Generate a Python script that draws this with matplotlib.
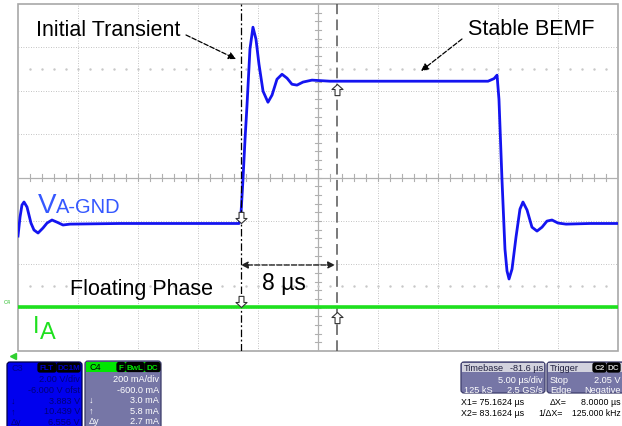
"""Scope capture: phase A voltage / current around the floating phase."""

import matplotlib

matplotlib.use("Agg")
import matplotlib.pyplot as plt
from matplotlib.patches import FancyBboxPatch, Rectangle
from matplotlib.path import Path

# time in us (5 us/div, 10 div), C3 in V (2 V/div, -6 V offset), C4 in mA (200 mA/div, -600 mA offset)
T_LEFT = 56.6
T_SPAN = 50.0
X1, X2 = 75.1624, 83.1624

va_t = [56.60, 56.77, 56.93, 57.10, 57.35, 57.68, 57.93, 58.27, 58.68, 59.02,
        59.43, 59.85, 60.35, 60.93, 65.10, 70.10, 75.02, 75.18, 75.35, 75.52,
        75.68, 75.93, 76.18, 76.43, 76.68, 77.02, 77.43, 77.77, 78.18, 78.60,
        79.02, 79.43, 79.85, 80.35, 81.10, 82.60, 88.43, 95.77, 96.27, 96.52,
        96.68, 96.93, 97.18, 97.35, 97.52, 97.77, 98.10, 98.43, 98.68, 99.02,
        99.43, 99.85, 100.27, 100.68, 101.10, 101.60, 102.27, 104.27, 106.60]
va_v = [3.30, 4.18, 4.73, 4.87, 4.64, 3.90, 3.58, 3.44, 3.67, 3.90,
        4.04, 3.94, 3.81, 3.85, 3.88, 3.88, 3.88, 4.31, 5.93, 7.77,
        9.29, 11.92, 12.93, 12.38, 11.23, 9.98, 9.47, 9.80, 10.53, 10.76,
        10.58, 10.30, 10.26, 10.40, 10.49, 10.44, 10.44, 10.44, 10.56, 10.72,
        9.61, 5.93, 2.70, 1.69, 1.32, 1.78, 3.25, 4.54, 4.87, 4.50,
        3.71, 3.53, 3.71, 3.99, 4.04, 3.90, 3.85, 3.88, 3.88]

ia_t = [56.6, 106.6]
ia_ma = [4.0, 4.0]

NARROW = ["Liberation Sans Narrow", "Liberation Sans", "DejaVu Sans"]
PANEL = ["Liberation Sans", "DejaVu Sans"]
BLUE = "#1414f0"
GREEN = "#1ee01e"
PANEL_BG = "#7676a6"
FS = 6.6  # panel text size

fig = plt.figure(figsize=(6.22, 4.27), dpi=100)
screen = [18 / 622, 75 / 427, 600 / 622, 347 / 427]

# graticule in divisions
scr = fig.add_axes(screen)
scr.set_xlim(0, 10)
scr.set_ylim(0, 8)
scr.axis("off")
scr.add_patch(Rectangle((0, 0), 10, 8, fc="white", ec="#a8a8a8", lw=1.2, clip_on=False))
for gx in range(1, 10):
    if gx != 5:
        scr.axvline(gx, color="#b0b0b0", lw=0.6, ls=(0, (1, 2)))
for gy in range(1, 8):
    if gy != 4:
        scr.axhline(gy, color="#b0b0b0", lw=0.6, ls=(0, (1, 2)))
scr.axvline(5, color="#b0b0b0", lw=0.9)
scr.axhline(4, color="#b0b0b0", lw=0.9)
minor_x = [i * 0.2 for i in range(1, 50)]
minor_y = [i * 0.2 for i in range(1, 40)]
for mx in minor_x:
    scr.plot([mx, mx], [3.93, 4.07], color="#b0b0b0", lw=0.8)
for my in minor_y:
    scr.plot([4.95, 5.05], [my, my], color="#b0b0b0", lw=0.8)
for dot_row in (1.5, 6.5):
    scr.plot(minor_x, [dot_row] * len(minor_x), ls="none", marker="s", ms=0.7,
             color="#c8c8c8")

# traces
ax = fig.add_axes(screen)
ax.patch.set_alpha(0)
ax.set_xlim(T_LEFT, T_LEFT + T_SPAN)
ax.set_ylim(-2, 14)
ax.axis("off")
ax.plot(va_t, va_v, color=BLUE, lw=2.0, solid_joinstyle="round")

ax2 = ax.twinx()
ax2.set_ylim(-200, 1400)
ax2.axis("off")
ax2.plot(ia_t, ia_ma, color=GREEN, lw=2.6)

# cursors
ax.axvline(X1, color="black", lw=0.9, dashes=(6, 2, 1.5, 2))
ax.axvline(X2, color="#555555", lw=1.1, dashes=(7, 3.5))

arrow_down = Path([(-0.22, 1), (0.22, 1), (0.22, 0.45), (0.5, 0.45), (0, 0),
                   (-0.5, 0.45), (-0.22, 0.45), (-0.22, 1)], closed=True)
arrow_up = Path([(x, -y) for x, y in arrow_down.vertices], closed=True)
mk = dict(ls="none", ms=16, mfc="white", mec="#333333", mew=0.8, zorder=5)
ax.plot([X1], [3.88], marker=arrow_down, **mk)
ax.plot([X2], [10.30], marker=arrow_up, **mk)
ax2.plot([X1], [4.0], marker=arrow_down, **mk)
ax2.plot([X2], [-20.0], marker=arrow_up, **mk)

# overlay in pixel coordinates for labels and status panels
ov = fig.add_axes([0, 0, 1, 1])
ov.patch.set_alpha(0)
ov.set_xlim(0, 622)
ov.set_ylim(427, 0)
ov.axis("off")

ov.text(36, 36, "Initial Transient", family=NARROW, fontsize=15.5)
ov.annotate("", xy=(236, 60), xytext=(186, 36),
            arrowprops=dict(arrowstyle="-|>", ls="--", lw=0.9, color="black",
                            mutation_scale=11, shrinkA=0, shrinkB=0))
ov.text(468, 35, "Stable BEMF", family=NARROW, fontsize=15.5)
ov.annotate("", xy=(421, 72), xytext=(462, 40),
            arrowprops=dict(arrowstyle="-|>", ls="--", lw=0.9, color="black",
                            mutation_scale=11, shrinkA=0, shrinkB=0))
ov.text(70, 295, "Floating Phase", family=NARROW, fontsize=15.5)
ov.text(262, 290, "8 µs", family=NARROW, fontsize=16.5)
ov.annotate("", xy=(241, 266), xytext=(335, 266),
            arrowprops=dict(arrowstyle="<|-|>", ls="--", lw=1.0, color="#222222",
                            mutation_scale=10, shrinkA=0, shrinkB=0))
ov.text(38, 213, "V", family=NARROW, fontsize=20, color="#3558ff")
ov.text(56, 213, "A-GND", family=NARROW, fontsize=14.5, color="#3558ff")
ov.text(33, 333, "I", family=NARROW, fontsize=17, color=GREEN)
ov.text(40, 339, "A", family=NARROW, fontsize=17, color=GREEN)
ov.text(4, 304, "C4", family=PANEL, fontsize=4, color="#30c030")
ov.plot([13], [357], marker="<", ms=4, color="#30d030")


def box(x, y, w, h, fc, ec, r=3, z=2):
    ov.add_patch(FancyBboxPatch((x, y), w, h, boxstyle=f"round,pad=0,rounding_size={r}",
                                fc=fc, ec=ec, lw=0.9, zorder=z, clip_on=False))


def tag(x, w, y, label, color):
    box(x, y, w, 9, "black", "black", r=2, z=4)
    ov.text(x + w / 2, y + 4.8, label, family=PANEL, fontsize=5.8, color=color,
            ha="center", va="center", zorder=5, fontweight="bold")


def row(x, y, s, color, ha="left", fs=FS):
    ov.text(x, y, s, family=PANEL, fontsize=fs, color=color, va="center", ha=ha, zorder=5)


# C3 panel
box(7, 363, 75, 70, "#0000ee", "#00004a")
row(11, 368.5, "C3", "#000090")
tag(38, 18, 364, "FLT", "#0000cc")
tag(57, 23, 364, "DC1M", "#0000cc")
c3_rows = [("", "2.00 V/div"), ("", "-6.000 V ofst"), ("↓", "3.883 V"),
           ("↑", "10.439 V"), ("Δy", "6.556 V")]
for i, (lab, val) in enumerate(c3_rows):
    yy = 380 + 10.6 * i
    row(11, yy, lab, "#00007a")
    row(80, yy, val, "#00007a", ha="right")

# C4 panel
box(85, 362, 76, 70, PANEL_BG, "#3c3c6a")
ov.add_patch(Rectangle((86, 363), 74, 10, fc="#00e600", ec="none", zorder=3))
row(89, 368, "C4", "black")
tag(117, 8, 363.5, "F", "#00e600")
tag(126, 18, 363.5, "BwL", "#00e600")
tag(145, 15, 363.5, "DC", "#00e600")
c4_rows = [("", "200 mA/div"), ("", "-600.0 mA"), ("↓", "3.0 mA"),
           ("↑", "5.8 mA"), ("Δy", "2.7 mA")]
for i, (lab, val) in enumerate(c4_rows):
    yy = 379.5 + 10.6 * i
    row(89, yy, lab, "white")
    row(159, yy, val, "white", ha="right")

# timebase / trigger panels
box(461, 363, 84, 31, PANEL_BG, "#3c3c6a")
ov.add_patch(Rectangle((462, 364), 82, 9, fc="#d2d2de", ec="none", zorder=3))
row(464, 368.5, "Timebase", "#202040")
row(543, 368.5, "-81.6 µs", "#202040", ha="right")
row(543, 381, "5.00 µs/div", "white", ha="right")
row(464, 391, "125 kS", "white")
row(543, 391, "2.5 GS/s", "white", ha="right")

box(547, 363, 84, 31, PANEL_BG, "#3c3c6a")
ov.add_patch(Rectangle((548, 364), 82, 9, fc="#d2d2de", ec="none", zorder=3))
row(550, 368.5, "Trigger", "#202040")
tag(593, 13, 364, "C2", "#d0d0d0")
tag(607, 13, 364, "DC", "#d0d0d0")
row(550, 381, "Stop", "white")
row(621, 381, "2.05 V", "white", ha="right")
row(550, 391, "Edge", "white")
row(621, 391, "Negative", "white", ha="right")

# cursor readout
row(461, 403, f"X1= {X1:.4f} µs", "black", fs=6.4)
row(550, 403, "ΔX=", "black", fs=6.4)
row(621, 403, f"{X2 - X1:.4f} µs", "black", ha="right", fs=6.4)
row(461, 414, f"X2= {X2:.4f} µs", "black", fs=6.4)
row(538, 414, "1/ΔX=", "black", fs=6.4)
row(621, 414, f"{1000 / (X2 - X1):.3f} kHz", "black", ha="right", fs=6.2)

fig.savefig("out.png", dpi=100)
